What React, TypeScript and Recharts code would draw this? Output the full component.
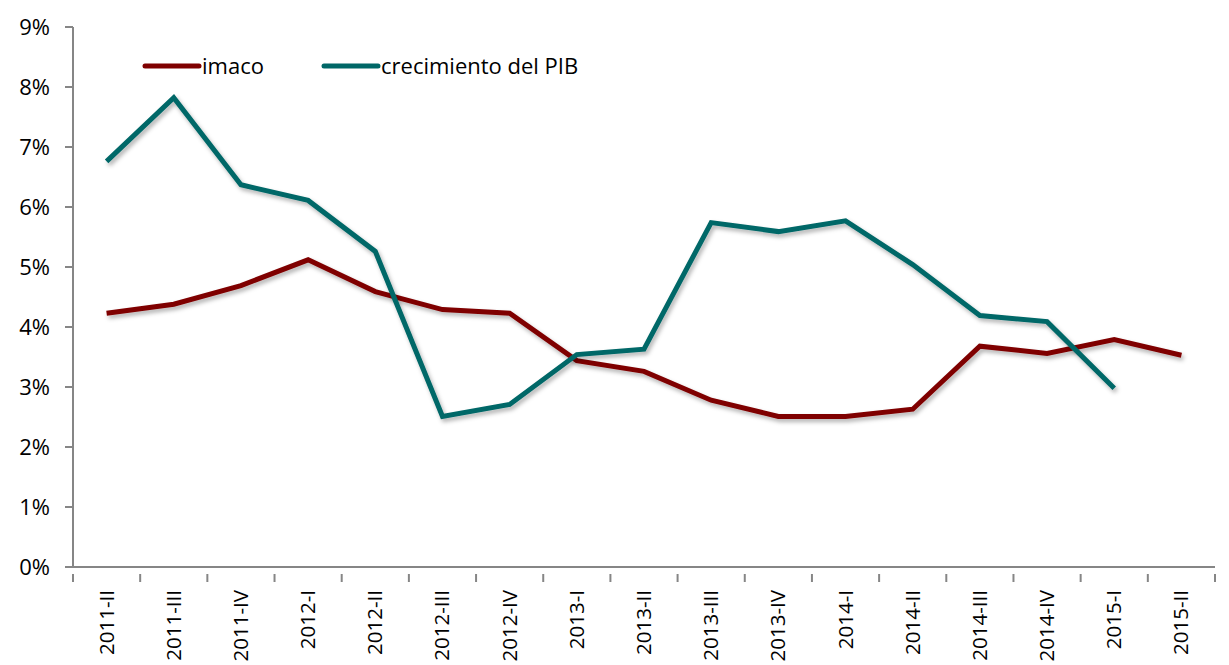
import React from 'react';
import { LineChart, Line, XAxis, YAxis } from 'recharts';

const categories = ['2011-II','2011-III','2011-IV','2012-I','2012-II','2012-III','2012-IV','2013-I','2013-II','2013-III','2013-IV','2014-I','2014-II','2014-III','2014-IV','2015-I','2015-II'];
const imaco = [4.23,4.38,4.69,5.12,4.59,4.29,4.23,3.44,3.26,2.78,2.51,2.51,2.63,3.68,3.56,3.79,3.53];
const pib: (number|null)[] = [6.76,7.82,6.37,6.11,5.26,2.51,2.71,3.54,3.63,5.74,5.59,5.77,5.04,4.19,4.09,2.98,null];
const yTicks = [0,1,2,3,4,5,6,7,8,9];

const data = categories.map((c, i) => ({ cat: c, imaco: imaco[i], pib: pib[i] }));

const FONT = 'Open Sans, sans-serif';
const AXIS = '#868686';
const RED = '#7f0000';
const TEAL = '#006767';

const W = 1221;
const H = 657;
const LEFT = 65;
const RIGHT = 14;
const STEP = (W - LEFT - RIGHT) / categories.length;

const XTick = (props: any) => {
  const { x, y, payload, index } = props;
  const last = index === categories.length - 1;
  return (
    <g>
      <line x1={x - STEP / 2} y1={y - 1} x2={x - STEP / 2} y2={y + 7} stroke={AXIS} strokeWidth={2} />
      {last && <line x1={x + STEP / 2} y1={y - 1} x2={x + STEP / 2} y2={y + 7} stroke={AXIS} strokeWidth={2} />}
      <text x={x} y={y} transform={`rotate(-90, ${x}, ${y})`} dx={-15} dy={7} textAnchor="end"
        fontFamily={FONT} fontSize={20.5} fill="#000">{payload.value}</text>
    </g>
  );
};

export default function App() {
  return (
    <div style={{ position: 'relative', width: W, height: H, background: '#fff' }}>
      <LineChart width={W} height={H} data={data} margin={{ top: 19, right: RIGHT, left: 0, bottom: 0 }}>
        <defs>
          <filter id="shadow" x="-10%" y="-10%" width="120%" height="130%">
            <feDropShadow dx="2" dy="3" stdDeviation="2" floodColor="#000" floodOpacity="0.3" />
          </filter>
        </defs>
        <XAxis dataKey="cat" interval={0} height={98} stroke={AXIS} strokeWidth={2}
          padding={{ left: STEP / 2, right: STEP / 2 }}
          tickLine={false} tick={<XTick />} />
        <YAxis width={LEFT} domain={[0, 9]} ticks={yTicks} interval={0} stroke={AXIS} strokeWidth={2}
          tickSize={8} tickMargin={15} tickFormatter={(v: number) => `${v}%`}
          tick={{ fontFamily: FONT, fontSize: 22, fill: '#000' }} tickLine={{ stroke: AXIS, strokeWidth: 2 }} />
        <Line type="linear" dataKey="imaco" stroke={RED} strokeWidth={5} dot={false} activeDot={false}
          isAnimationActive={false} filter="url(#shadow)" />
        <Line type="linear" dataKey="pib" stroke={TEAL} strokeWidth={5} dot={false} activeDot={false}
          isAnimationActive={false} filter="url(#shadow)" connectNulls={false} />
      </LineChart>
      <svg width={600} height={40} style={{ position: 'absolute', left: 0, top: 43, overflow: 'visible' }}>
        <line x1={137} y1={15} x2={191} y2={15} stroke={RED} strokeWidth={5} strokeLinecap="round" />
        <text x={194} y={23} fontFamily={FONT} fontSize={22} fill="#000">imaco</text>
        <line x1={316} y1={15} x2={370} y2={15} stroke={TEAL} strokeWidth={5} strokeLinecap="round" />
        <text x={373} y={23} fontFamily={FONT} fontSize={22} fill="#000">crecimiento del PIB</text>
      </svg>
    </div>
  );
}
